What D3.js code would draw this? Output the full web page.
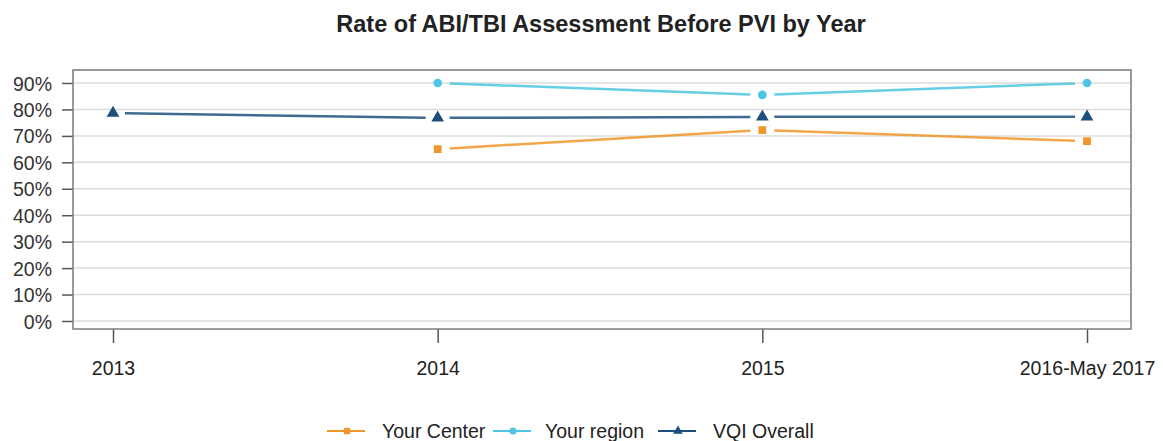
<!DOCTYPE html>
<html>
<head>
<meta charset="utf-8">
<script src="https://d3js.org/d3.v7.min.js"></script>
<style>
  body { margin: 0; background: #fff; }
  text { font-family: "Liberation Sans", Arial, sans-serif; }
</style>
</head>
<body>
<svg width="1163" height="441"></svg>
<script>
// chart data
var years = ["2013", "2014", "2015", "2016-May 2017"];
var yTicks = [0, 10, 20, 30, 40, 50, 60, 70, 80, 90];
var yourCenter = [null, 65, 72.2, 68];
var yourRegion = [null, 90, 85.5, 90];
var vqiOverall = [78.6, 76.8, 77.2, 77.2];
var seriesNames = ["Your Center", "Your region", "VQI Overall"];
var seriesColors = ["#f0962a", "#4cc6e4", "#1d4f7c"];
var seriesShapes = [d3.symbolSquare, d3.symbolCircle, d3.symbolTriangle];

var svg = d3.select("svg");

// plot box
var box = {left: 73, right: 1131, top: 70, bottom: 329};

var x = d3.scalePoint().domain(years).range([113, 1087]);
var y = d3.scaleLinear().domain([0, 90]).range([321, 83]);

// title
svg.append("text")
  .attr("x", 601).attr("y", 32)
  .attr("text-anchor", "middle")
  .style("font-size", "23.5px").style("font-weight", "bold").style("fill", "#222")
  .text("Rate of ABI/TBI Assessment Before PVI by Year");

// gridlines
svg.append("g").selectAll("line")
  .data(yTicks).enter().append("line")
  .attr("x1", box.left).attr("x2", box.right)
  .attr("y1", function(d) { return y(d); })
  .attr("y2", function(d) { return y(d); })
  .style("stroke", "#dcdcdc").style("stroke-width", 1.5);

// y axis
var yAxis = d3.axisLeft(y).tickValues(yTicks)
  .tickFormat(function(d) { return d + "%"; })
  .tickSize(11).tickPadding(10);
var gy = svg.append("g").attr("transform", "translate(" + box.left + ",0)").call(yAxis);
gy.select(".domain").remove();
gy.selectAll("line").style("stroke", "#555").style("stroke-width", 1.5);
gy.selectAll("text").style("font-size", "19.5px").style("fill", "#333")
  .attr("font-family", null).attr("dy", "0.36em");

// x axis
var xAxis = d3.axisBottom(x).tickSize(14);
var gx = svg.append("g").attr("transform", "translate(0," + box.bottom + ")").call(xAxis);
gx.select(".domain").remove();
gx.selectAll("line").style("stroke", "#555").style("stroke-width", 1.5);
gx.selectAll("text").style("font-size", "19.5px").style("fill", "#222")
  .attr("font-family", null).attr("y", 46).attr("dy", 0);

// box border
svg.append("rect")
  .attr("x", box.left).attr("y", box.top)
  .attr("width", box.right - box.left).attr("height", box.bottom - box.top)
  .style("fill", "none").style("stroke", "#7a7a7a").style("stroke-width", 1.5);

// series (type "b": lines with gaps around points)
var allSeries = [yourCenter, yourRegion, vqiOverall];
var gap = 12;

allSeries.forEach(function(vals, s) {
  var pts = [];
  vals.forEach(function(v, i) {
    if (v !== null) pts.push({x: x(years[i]), y: y(v)});
  });
  var g = svg.append("g");
  for (var i = 0; i < pts.length - 1; i++) {
    var a = pts[i], b = pts[i + 1];
    var dx = b.x - a.x, dy = b.y - a.y, len = Math.sqrt(dx * dx + dy * dy);
    g.append("line")
      .attr("x1", a.x + dx / len * gap).attr("y1", a.y + dy / len * gap)
      .attr("x2", b.x - dx / len * gap).attr("y2", b.y - dy / len * gap)
      .style("stroke", seriesColors[s]).style("stroke-width", 2.5)
      .style("stroke-opacity", 0.85);
  }
  g.selectAll("path").data(pts).enter().append("path")
    .attr("transform", function(d) { return "translate(" + d.x + "," + d.y + ")"; })
    .attr("d", d3.symbol().type(seriesShapes[s]).size(s === 2 ? 70 : 60))
    .style("fill", seriesColors[s]);
});

// legend
var legendX = [327, 493, 658];
var legendTextX = [382, 545, 713];
var legend = svg.append("g");
seriesNames.forEach(function(name, s) {
  var lg = legend.append("g").attr("transform", "translate(" + legendX[s] + ",431)");
  lg.append("line").attr("x1", 0).attr("x2", 38).attr("y1", 0).attr("y2", 0)
    .style("stroke", seriesColors[s]).style("stroke-width", 2);
  lg.append("path").attr("transform", "translate(20,0)")
    .attr("d", d3.symbol().type(seriesShapes[s]).size(40))
    .style("fill", seriesColors[s]);
  legend.append("text").attr("x", legendTextX[s]).attr("y", 438)
    .style("font-size", "19.5px").style("fill", "#222")
    .text(name);
});
</script>
</body>
</html>
